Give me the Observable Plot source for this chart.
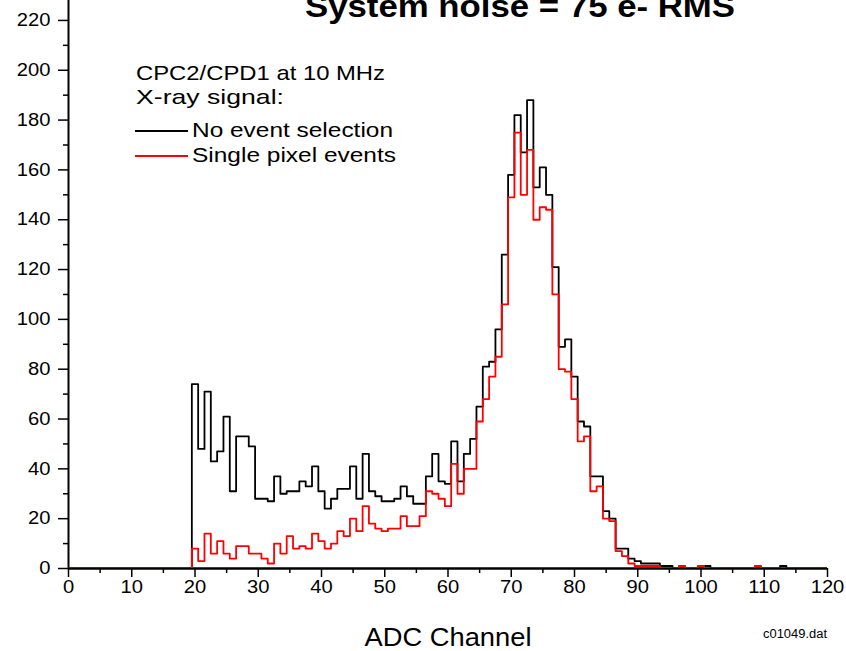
<!DOCTYPE html>
<html>
<head>
<meta charset="utf-8">
<script src="https://cdn.jsdelivr.net/npm/d3@7"></script>
<script src="https://cdn.jsdelivr.net/npm/@observablehq/plot@0.6"></script>
<style>
  html, body { margin: 0; padding: 0; background: #fff; }
  #chart { width: 846px; height: 651px; overflow: hidden; }
</style>
</head>
<body>
<div id="chart"></div>
<script>
// ADC channel numbers (bin centres)
const channel = [
  0,1,2,3,4,5,6,7,8,9,10,11,12,13,14,15,16,17,18,19,
  20,21,22,23,24,25,26,27,28,29,30,31,32,33,34,35,36,37,38,39,
  40,41,42,43,44,45,46,47,48,49,50,51,52,53,54,55,56,57,58,59,
  60,61,62,63,64,65,66,67,68,69,70,71,72,73,74,75,76,77,78,79,
  80,81,82,83,84,85,86,87,88,89,90,91,92,93,94,95,96,97,98,99,
  100,101,102,103,104,105,106,107,108,109,110,111,112,113,114,115,116,117,118,119,120
];

// Counts per channel: no event selection (black)
const noSelection = [
  0,0,0,0,0,0,0,0,0,0,0,0,0,0,0,0,0,0,0,0,
  74,48,71,43,47,61,31,53,53,49,28,28,27,37,30,31,31,35,33,41,
  31,24,28,32,32,41,28,46,31,29,27,27,28,33,29,26,26,37,46,35,
  34,51,35,46,52,65,81,83,96,126,158,182,167,188,153,161,150,121,89,92,
  77,59,57,37,37,23,20,8,8,4,3,2,2,2,1,1,0,0,0,0,
  0,1,0,0,0,0,0,0,0,0,0,0,0,1,0,0,0,0,0,0,0
];

// Counts per channel: single pixel events (red)
const singlePixel = [
  0,0,0,0,0,0,0,0,0,0,0,0,0,0,0,0,0,0,0,0,
  8,3,14,6,11,6,4,9,9,6,6,4,2,10,6,13,8,9,8,14,
  11,8,10,15,13,20,15,25,18,16,15,16,16,21,17,17,21,31,30,28,
  25,42,30,40,40,59,68,77,85,106,149,175,150,168,140,145,144,110,80,79,
  68,51,53,31,33,20,19,7,5,2,1,1,1,1,0,0,0,1,0,0,
  1,0,0,0,0,0,0,0,0,1,0,0,0,0,0,0,0,0,0,0,0
];

// Axis ticks
const xTicks = [0,10,20,30,40,50,60,70,80,90,100,110,120];
const xMinorTicks = [5,15,25,35,45,55,65,75,85,95,105,115];
const yTicks = [0,20,40,60,80,100,120,140,160,180,200,220];
const yMinorTicks = [10,30,50,70,90,110,130,150,170,190,210];

// Texts
const titleText = "System noise = 75 e- RMS";
const legendHeader = ["CPC2/CPD1 at 10 MHz", "X-ray signal:"];
const seriesNames = ["No event selection", "Single pixel events"];
const seriesColors = ["#000000", "#ff0000"];
const xLabel = "ADC Channel";
const fileLabel = "c01049.dat";

// Histogram outline: each channel is a bin from c-0.5 to c+0.5
function steps(values) {
  const pts = channel.map((c, i) => ({x: c - 0.5, y: values[i]}));
  pts.push({x: channel[channel.length - 1] + 0.5, y: values[values.length - 1]});
  return pts;
}

const font = "'Liberation Sans', Arial, Helvetica, sans-serif";

const plot = Plot.plot({
  width: 846,
  height: 651,
  marginLeft: 68,
  marginRight: 19,
  marginTop: 0,
  marginBottom: 83,
  x: {domain: [0, 120], label: null},
  y: {domain: [0, 228], label: null},
  style: {fontFamily: font, fontSize: "18px", color: "#000", background: "#fff", overflow: "hidden"},
  marks: [
    Plot.axisX(xTicks, {tickSize: 9, tickPadding: 3, fontSize: 18, strokeWidth: 1.5}),
    Plot.axisX(xMinorTicks, {tickSize: 5, tickFormat: () => "", strokeWidth: 1.5}),
    Plot.axisY(yTicks, {tickSize: 10, tickPadding: 8, fontSize: 18, strokeWidth: 1.5}),
    Plot.axisY(yMinorTicks, {tickSize: 5, tickFormat: () => "", strokeWidth: 1.5}),
    Plot.ruleX([0], {stroke: "#000", strokeWidth: 2}),
    Plot.ruleY([0], {stroke: "#000", strokeWidth: 2.5}),
    Plot.line(steps(noSelection), {x: "x", y: "y", curve: "step-after", stroke: seriesColors[0], strokeWidth: 1.8, clip: true}),
    Plot.line(steps(singlePixel), {x: "x", y: "y", curve: "step-after", stroke: seriesColors[1], strokeWidth: 1.8, clip: true})
  ]
});

document.getElementById("chart").appendChild(plot);

// Slightly widen tick labels to match the reference's proportions
d3.select(plot).selectAll("g[aria-label$='tick label'] text").each(function() {
  const w = this.getComputedTextLength();
  if (w > 0) d3.select(this).attr("textLength", w * 1.12).attr("lengthAdjust", "spacingAndGlyphs");
});

// Annotations (title, legend, labels)
const svg = d3.select(plot);
const g = svg.append("g").attr("font-family", font).attr("fill", "#000");

function addText(txt, x, y, size, opts = {}) {
  const t = g.append("text")
    .attr("x", x).attr("y", y)
    .attr("font-size", size)
    .attr("text-anchor", opts.anchor || "start")
    .text(txt);
  if (opts.bold) t.attr("font-weight", "bold");
  if (opts.length) t.attr("textLength", opts.length).attr("lengthAdjust", "spacingAndGlyphs");
  return t;
}

addText(titleText, 305, 17, 31, {bold: true, length: 430});
addText(legendHeader[0], 136, 80, 21, {length: 249});
addText(legendHeader[1], 136, 104, 21, {length: 148});
g.append("line").attr("x1", 135).attr("x2", 188).attr("y1", 131).attr("y2", 131)
  .attr("stroke", seriesColors[0]).attr("stroke-width", 1.8);
addText(seriesNames[0], 192, 137, 21, {length: 201});
g.append("line").attr("x1", 135).attr("x2", 188).attr("y1", 156).attr("y2", 156)
  .attr("stroke", seriesColors[1]).attr("stroke-width", 1.8);
addText(seriesNames[1], 192, 162, 21, {length: 204});
addText(xLabel, 448, 646, 25, {anchor: "middle", length: 167});
addText(fileLabel, 827, 638, 12, {anchor: "end", length: 64});
</script>
</body>
</html>
